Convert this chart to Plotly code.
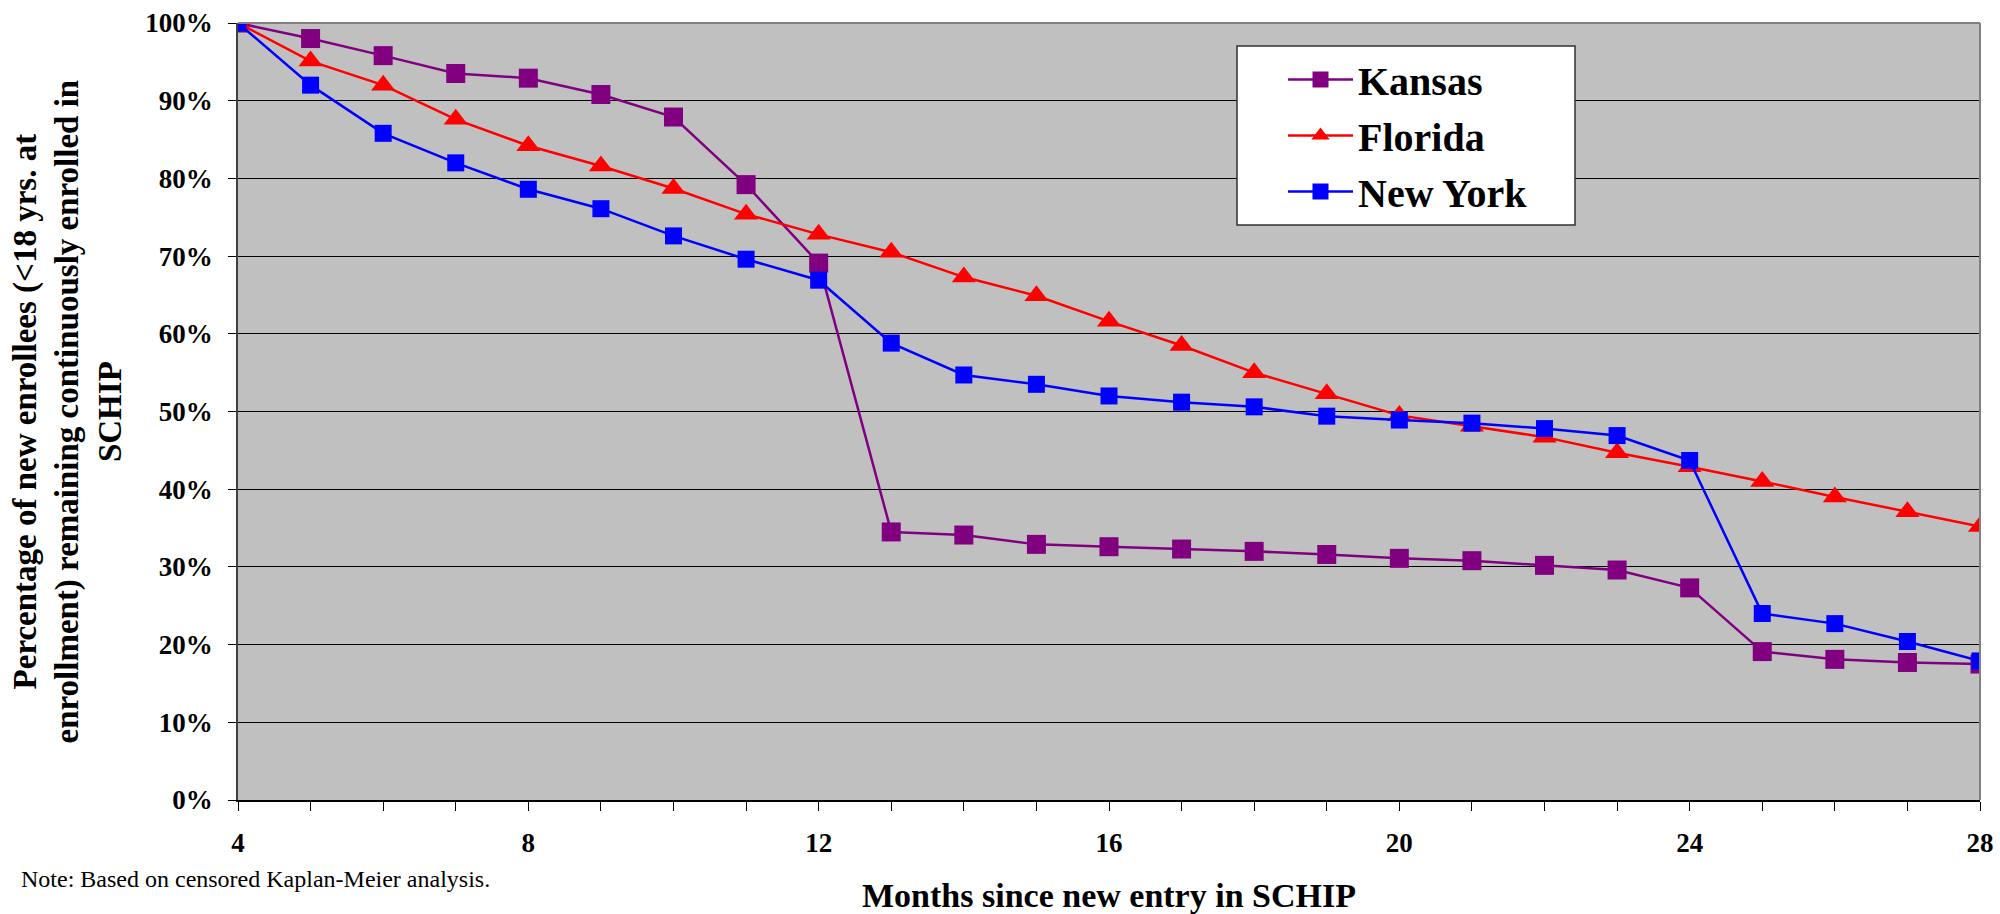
import plotly.graph_objects as go

months = list(range(4, 29))
kansas = [100, 98.0, 95.8, 93.5, 92.9, 90.8, 87.9, 79.2, 69.1, 34.5, 34.1, 32.9, 32.6, 32.3,
          32.0, 31.6, 31.1, 30.8, 30.2, 29.6, 27.3, 19.1, 18.1, 17.7, 17.5]
florida = [100, 95.1, 92.0, 87.6, 84.2, 81.6, 78.7, 75.4, 72.8, 70.5, 67.3, 64.9, 61.6, 58.5,
           55.0, 52.3, 49.5, 48.1, 46.7, 44.7, 42.9, 41.0, 39.0, 37.1, 35.2]
newyork = [100, 92.0, 85.8, 82.0, 78.6, 76.1, 72.6, 69.6, 66.9, 58.8, 54.7, 53.5, 52.0, 51.2,
           50.6, 49.4, 48.9, 48.5, 47.8, 46.9, 43.7, 24.0, 22.7, 20.4, 17.9]

y_ticks = [0, 10, 20, 30, 40, 50, 60, 70, 80, 90, 100]
y_tick_text = [f"{v}%" for v in y_ticks]
x_ticks = [4, 8, 12, 16, 20, 24, 28]

FONT = "Liberation Serif, Times New Roman, serif"

fig = go.Figure()
fig.add_trace(go.Scatter(x=months, y=kansas, name="Kansas", mode="lines+markers",
                         legendgroup="k",
                         line=dict(color="#800080", width=2.5),
                         marker=dict(symbol="square", size=19, color="#800080")))
fig.add_trace(go.Scatter(x=months, y=florida, name="Florida", mode="lines+markers",
                         legendgroup="f",
                         line=dict(color="#FF0000", width=2.5),
                         marker=dict(symbol="triangle-up", size=21, color="#FF0000")))
fig.add_trace(go.Scatter(x=months, y=newyork, name="New York", mode="lines+markers",
                         legendgroup="n",
                         line=dict(color="#0000FF", width=2.5),
                         marker=dict(symbol="square", size=17, color="#0000FF")))

L, R, T, B = 238, 20, 23, 114
W, H = 2000, 914
pw = W - L - R
ph = H - T - B

def px_x(p):
    return (p - L) / pw

def px_y(p):
    return (H - B - p) / ph

fig.update_layout(
    width=W, height=H,
    margin=dict(l=L, r=R, t=T, b=B, autoexpand=False),
    paper_bgcolor="white",
    plot_bgcolor="#C0C0C0",
    font=dict(family=FONT, color="black"),
    showlegend=True,
    legend=dict(
        x=px_x(1283), y=px_y(47), xanchor="left", yanchor="top",
        bgcolor="rgba(0,0,0,0)", borderwidth=0,
        font=dict(family=FONT, size=40, color="black", weight="bold"),
        itemwidth=65, tracegroupgap=1,
    ),
    xaxis=dict(
        range=[4, 28], tickmode="array", tickvals=x_ticks,
        ticks="outside", ticklen=9, tickwidth=1.2, tickcolor="black",
        showgrid=False, zeroline=False,
        showline=True, linecolor="black", linewidth=1.5,
        tickfont=dict(family=FONT, size=27, color="black", weight="bold"),
        ticklabelstandoff=9,
        minor=dict(dtick=1, tick0=4, ticks="outside", ticklen=9, tickwidth=1.2,
                   tickcolor="black", showgrid=False),
    ),
    yaxis=dict(
        range=[0, 100], tickmode="array", tickvals=y_ticks, ticktext=y_tick_text,
        ticks="outside", ticklen=8, tickwidth=1.2, tickcolor="black",
        showgrid=True, gridcolor="black", gridwidth=1.2,
        zeroline=False,
        showline=True, linecolor="#404040", linewidth=1.5,
        tickfont=dict(family=FONT, size=27, color="black", weight="bold"),
        ticklabelstandoff=10,
    ),
    shapes=[
        dict(type="line", xref="paper", yref="paper", x0=0, x1=1, y0=1, y1=1,
             line=dict(color="#808080", width=2)),
        dict(type="line", xref="paper", yref="paper", x0=1, x1=1, y0=0, y1=1,
             line=dict(color="#808080", width=2)),
        dict(type="rect", xref="paper", yref="paper",
             x0=px_x(1237), x1=px_x(1575), y0=px_y(225), y1=px_y(46),
             fillcolor="white", line=dict(color="#303030", width=1.5), layer="above"),
    ],
    annotations=[
        dict(text="Percentage of new enrollees (&lt;18 yrs. at<br>enrollment) remaining continuously enrolled in<br>SCHIP",
             xref="paper", yref="paper", x=px_x(67), y=0.5, xanchor="center", yanchor="middle",
             textangle=-90, showarrow=False,
             font=dict(family=FONT, size=33, color="black", weight="bold")),
        dict(text="Months since new entry in SCHIP",
             xref="paper", yref="paper", x=0.5, y=px_y(895), xanchor="center", yanchor="middle",
             showarrow=False,
             font=dict(family=FONT, size=34, color="black", weight="bold")),
        dict(text="Note: Based on censored Kaplan-Meier analysis.",
             xref="paper", yref="paper", x=px_x(19), y=px_y(879), xanchor="left", yanchor="middle",
             showarrow=False,
             font=dict(family=FONT, size=24, color="black")),
    ],
)

fig.write_html("out.html")
